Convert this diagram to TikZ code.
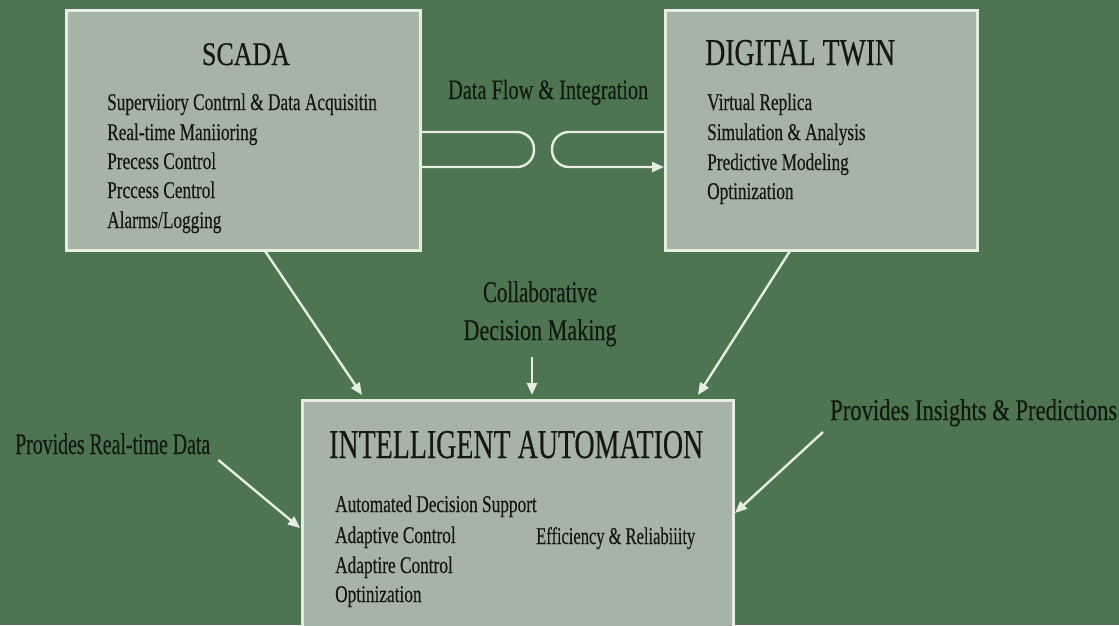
\documentclass[tikz,border=0pt]{standalone}
\usepackage{fontspec}
\setmainfont[FakeBold=0.4]{Liberation Serif}
\newfontfamily\heavy[FakeBold=0.4]{Liberation Serif}
\usepackage{graphicx}
\usetikzlibrary{arrows.meta,calc}
\definecolor{bg}{HTML}{4D7551}
\definecolor{boxfill}{HTML}{A5B4A4}
\definecolor{edge}{HTML}{E6EEE4}
\definecolor{ink}{HTML}{111911}
\newcommand{\fw}[3]{\resizebox{#1pt}{\height}{\heavy\fontsize{#2}{#2}\selectfont #3}}
\newcommand{\itm}[1]{\scalebox{0.72}[1]{\heavy\fontsize{24}{24}\selectfont #1}}
\begin{document}
\begin{tikzpicture}[x=1pt,y=-1pt,
  panel/.style={draw=edge, line width=3pt, fill=boxfill, inner sep=0, outer sep=0, anchor=north west},
  txt/.style={inner sep=0, anchor=base west, text=ink},
  ctxt/.style={inner sep=0, anchor=base, text=ink},
  conn/.style={draw=edge, line width=2.4pt, -{Triangle[length=12pt,width=10pt]}},
  loopline/.style={draw=edge, line width=2.4pt, rounded corners=17pt}]
\fill[bg] (0,0) rectangle (1119,625);
\useasboundingbox (0,0) rectangle (1119,625);
\clip (0,0) rectangle (1119,625);
% boxes
\node[panel, minimum width=354pt, minimum height=240pt] (scada) at (66,10) {};
\node[panel, minimum width=312pt, minimum height=240pt] (dt) at (665,10) {};
\node[panel, minimum width=431pt, minimum height=240pt] (ia) at (302,400) {};
% SCADA text
\node[ctxt] (scadaT) at (246,65) {\fw{88}{33}{SCADA}};
\node[txt] (s1) at (107,110) {\itm{Superviiory Contrnl \& Data Acquisitin}};
\node[txt] (s2) at (107,140) {\itm{Real-time Maniioring}};
\node[txt] (s3) at (107,169) {\itm{Precess Control}};
\node[txt] (s4) at (107,198) {\itm{Prccess Centrol}};
\node[txt] (s5) at (107,228) {\itm{Alarms/Logging}};
% Digital twin text
\node[txt] (dtT) at (705,65) {\fw{190}{38}{DIGITAL TWIN}};
\node[txt] (d1) at (707,110) {\itm{Virtual Replica}};
\node[txt] (d2) at (707,140) {\itm{Simulation \& Analysis}};
\node[txt] (d3) at (707,170) {\itm{Predictive Modeling}};
\node[txt] (d4) at (707,199) {\itm{Optinization}};
% IA text
\node[txt] (iaT) at (329,458) {\fw{374}{41}{INTELLIGENT AUTOMATION}};
\node[txt] (i1) at (335,512) {\itm{Automated Decision Support}};
\node[txt] (i2) at (335,543) {\itm{Adaptive Control}};
\node[txt] (i3) at (335,573) {\itm{Adaptire Control}};
\node[txt] (i4) at (335,602) {\itm{Optinization}};
\node[txt] (i5) at (536,544) {\fw{159}{24}{Efficiency \& Reliabiiity}};
% labels
\node[txt] (dfl) at (448,99) {\fw{200}{28}{Data Flow \& Integration}};
\node[ctxt] (col1) at (540,302) {\fw{114}{30}{Collaborative}};
\node[ctxt] (col2) at (540,340) {\fw{153}{30}{Decision Making}};
\node[txt] (lbl) at (15,454) {\fw{195}{30}{Provides Real-time Data}};
\node[txt] (rbl) at (830,420) {\fw{287}{30}{Provides Insights \& Predictions}};
% data flow loops
\coordinate (la) at (534,132);
\coordinate (lb) at (534,167);
\coordinate (ra) at (552,132);
\coordinate (rb) at (552,167);
\draw[loopline] ($(scada.north east)+(0,122)$) -- (la) -- (lb) -- ($(scada.north east)+(0,157)$);
\draw[loopline, -{Triangle[length=12pt,width=10pt]}] ($(dt.north west)+(0,122)$) -- (ra) -- (rb) -- ($(dt.north west)+(-1,157)$);
% connectors
\draw[conn] ($(scada.south west)+(199,1)$) -- ($(ia.north west)+(60,-5)$);
\draw[conn] ($(dt.south west)+(125,1)$) -- ($(ia.north west)+(396,-5)$);
\draw[conn] ($(col2.base)+(-8,17)$) -- ($(ia.north west)+(230,-5)$);
\draw[conn] ($(lbl.base east)+(8,6)$) -- ($(ia.north west)+(-2,128)$);
\draw[conn] ($(rbl.base west)+(-7,12)$) -- ($(ia.north east)+(2,113)$);
\end{tikzpicture}
\end{document}
